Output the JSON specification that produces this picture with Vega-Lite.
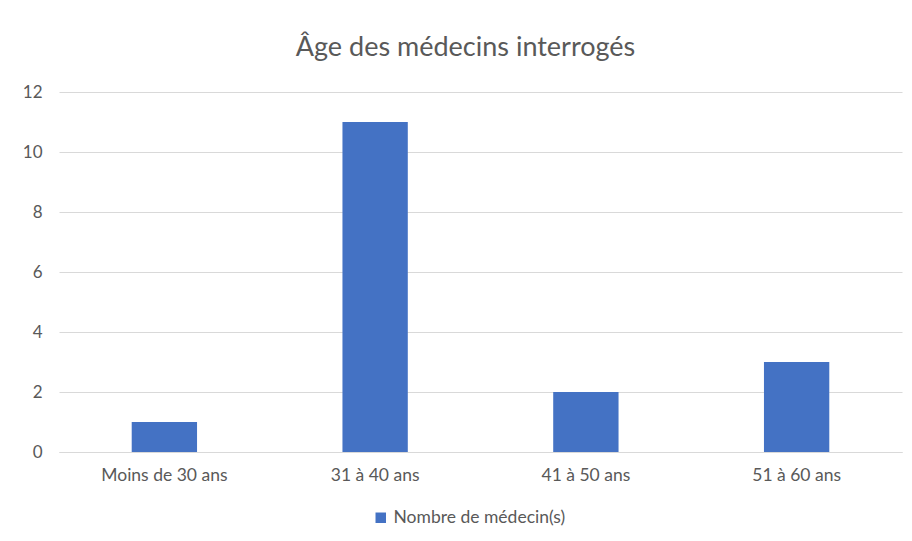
{
  "$schema": "https://vega.github.io/schema/vega-lite/v6.json",
  "width": 843,
  "height": 360,
  "autosize": "none",
  "padding": {"left": 59, "top": 92, "right": 10, "bottom": 89},
  "background": "white",
  "title": {
    "text": "Âge des médecins interrogés",
    "font": "Lato",
    "fontSize": 27,
    "fontWeight": "normal",
    "color": "#595959",
    "anchor": "middle",
    "offset": 21,
    "dx": -15
  },
  "data": {
    "values": [
      {"age": "Moins de 30 ans", "n": 1, "serie": "Nombre de médecin(s)"},
      {"age": "31 à 40 ans", "n": 11, "serie": "Nombre de médecin(s)"},
      {"age": "41 à 50 ans", "n": 2, "serie": "Nombre de médecin(s)"},
      {"age": "51 à 60 ans", "n": 3, "serie": "Nombre de médecin(s)"}
    ]
  },
  "mark": {"type": "bar"},
  "encoding": {
    "x": {
      "field": "age",
      "type": "nominal",
      "sort": null,
      "scale": {"paddingInner": 0.69, "paddingOuter": 0.345},
      "axis": {
        "title": null,
        "labelAngle": 0,
        "ticks": false,
        "domainColor": "#d9d9d9",
        "domainWidth": 1,
        "labelFont": "Lato",
        "labelFontSize": 17.5,
        "labelColor": "#595959",
        "labelPadding": 14
      }
    },
    "y": {
      "field": "n",
      "type": "quantitative",
      "scale": {"domain": [0, 12]},
      "axis": {
        "title": null,
        "values": [0, 2, 4, 6, 8, 10, 12],
        "domain": false,
        "ticks": false,
        "gridColor": "#d9d9d9",
        "gridWidth": 1,
        "labelFont": "Lato",
        "labelFontSize": 17,
        "labelColor": "#595959",
        "labelPadding": 17
      }
    },
    "color": {
      "field": "serie",
      "type": "nominal",
      "scale": {"range": ["#4472C4"]},
      "legend": {
        "title": null,
        "orient": "none",
        "legendX": 313,
        "legendY": 417,
        "symbolType": "square",
        "symbolSize": 110,
        "symbolStrokeWidth": 0,
        "labelFont": "Lato",
        "labelFontSize": 17.5,
        "labelColor": "#595959",
        "labelOffset": 4,
        "labelLimit": 400
      }
    }
  },
  "config": {
    "view": {"stroke": null}
  }
}
